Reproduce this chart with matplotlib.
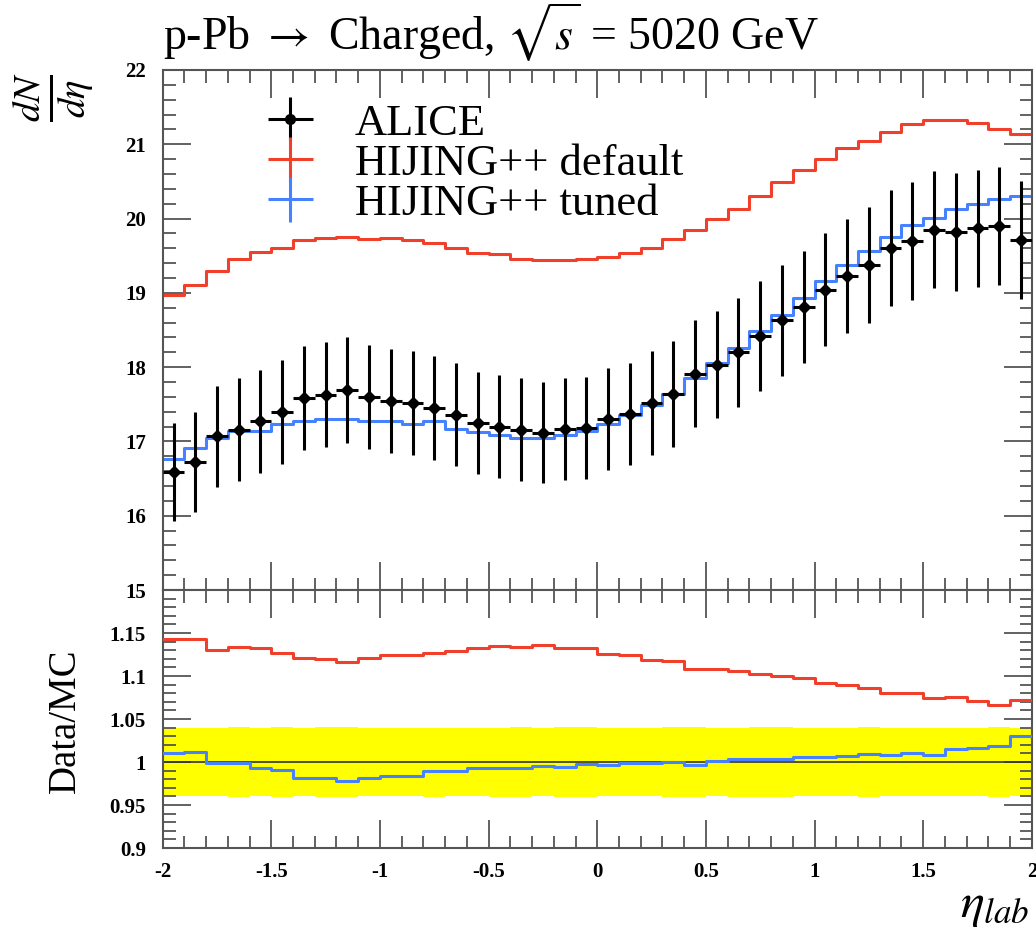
import numpy as np
import matplotlib
matplotlib.use("Agg")
import matplotlib.pyplot as plt
from matplotlib.ticker import MultipleLocator, FixedLocator

plt.rcParams['font.family'] = ['Liberation Serif', 'DejaVu Serif']
plt.rcParams['mathtext.fontset'] = 'stix'

# bin edges in eta_lab, 40 bins of 0.1
edges = np.round(np.arange(-2.0, 2.0001, 0.1), 2)

alice = [16.59, 16.72, 17.07, 17.16, 17.27, 17.40, 17.59, 17.63, 17.69, 17.60,
         17.55, 17.52, 17.45, 17.36, 17.25, 17.20, 17.16, 17.12, 17.17, 17.18,
         17.30, 17.37, 17.52, 17.64, 17.91, 18.03, 18.20, 18.42, 18.63, 18.81,
         19.04, 19.23, 19.38, 19.60, 19.70, 19.85, 19.82, 19.87, 19.90, 19.71]
alice_err = [0.66, 0.67, 0.68, 0.69, 0.69, 0.70, 0.70, 0.71, 0.71, 0.70,
             0.70, 0.70, 0.70, 0.69, 0.69, 0.69, 0.69, 0.68, 0.69, 0.69,
             0.69, 0.69, 0.70, 0.71, 0.72, 0.72, 0.73, 0.74, 0.75, 0.75,
             0.76, 0.77, 0.78, 0.78, 0.79, 0.79, 0.79, 0.79, 0.80, 0.79]
hij_default = [18.97, 19.11, 19.29, 19.45, 19.55, 19.61, 19.71, 19.74, 19.75, 19.72,
               19.74, 19.71, 19.67, 19.61, 19.54, 19.52, 19.45, 19.44, 19.44, 19.46,
               19.48, 19.54, 19.60, 19.72, 19.84, 19.99, 20.13, 20.31, 20.49, 20.65,
               20.80, 20.95, 21.04, 21.17, 21.27, 21.32, 21.32, 21.29, 21.21, 21.14]
hij_tuned = [16.77, 16.91, 17.05, 17.14, 17.14, 17.23, 17.27, 17.30, 17.30, 17.27,
             17.27, 17.23, 17.27, 17.17, 17.13, 17.08, 17.04, 17.04, 17.08, 17.14,
             17.23, 17.36, 17.49, 17.64, 17.85, 18.06, 18.26, 18.49, 18.70, 18.93,
             19.16, 19.37, 19.57, 19.75, 19.91, 20.01, 20.13, 20.20, 20.27, 20.30]

xticks = [-2, -1.5, -1, -0.5, 0, 0.5, 1, 1.5, 2]
xticklabels = ['-2', '-1.5', '-1', '-0.5', '0', '0.5', '1', '1.5', '2']
main_yticks = [15, 16, 17, 18, 19, 20, 21, 22]
ratio_yticks = [0.9, 0.95, 1.0, 1.05, 1.1, 1.15]
ratio_yticklabels = ['0.9', '0.95', '1', '1.05', '1.1', '1.15']

red = '#f0402c'
blue = '#4682ff'
frame = '#555555'

alice = np.array(alice)
alice_err = np.array(alice_err)
hij_default = np.array(hij_default)
hij_tuned = np.array(hij_tuned)
centers = 0.5 * (edges[:-1] + edges[1:])


def step_y(v):
    return np.append(v, v[-1])


fig = plt.figure(figsize=(10.36, 9.33), dpi=100)
ax = fig.add_axes([0.157, 0.3676, 0.839, 0.5574])
rax = fig.add_axes([0.157, 0.0911, 0.839, 0.2765], sharex=ax)

# main panel
ax.step(edges, step_y(hij_default), where='post', color=red, lw=2.2, zorder=2)
ax.step(edges, step_y(hij_tuned), where='post', color=blue, lw=2.2, zorder=2)
ax.errorbar(centers, alice, yerr=alice_err, xerr=0.05, fmt='D', color='black',
            ms=6, elinewidth=2.2, capsize=0, zorder=3)

# legend handles drawn as errorbar crosses, the way the reference shows them
h_alice = ax.errorbar([], [], yerr=[], xerr=[], fmt='o', color='black', ms=7,
                      elinewidth=2.2, capsize=0)
h_def = ax.errorbar([], [], yerr=[], xerr=[], fmt='none', ecolor=red,
                    elinewidth=2.2, capsize=0)
h_tun = ax.errorbar([], [], yerr=[], xerr=[], fmt='none', ecolor=blue,
                    elinewidth=2.2, capsize=0)
leg = ax.legend([h_alice, h_def, h_tun],
                ['ALICE', 'HIJING++ default', 'HIJING++ tuned'],
                loc='upper left', bbox_to_anchor=(0.06, 0.995), frameon=False,
                fontsize=32, handlelength=2.0, handletextpad=0.45,
                labelspacing=0.0, borderpad=0.2)

ax.set_xlim(-2, 2)
ax.set_ylim(15, 22)
ax.yaxis.set_major_locator(FixedLocator(main_yticks))
ax.yaxis.set_minor_locator(MultipleLocator(0.2))
ax.xaxis.set_major_locator(FixedLocator(xticks))
ax.xaxis.set_minor_locator(MultipleLocator(0.1))
ax.tick_params(axis='x', labelbottom=False)

# ratio panel (MC / data)
band_lo = 1 - alice_err / alice
band_hi = 1 + alice_err / alice
rax.fill_between(edges, step_y(band_lo), step_y(band_hi), step='post',
                 color='#ffff00', lw=0, zorder=1)
rax.axhline(1.0, color='#333333', lw=1.2, zorder=2)
rax.step(edges, step_y(hij_default / alice), where='post', color=red, lw=2.2, zorder=3)
rax.step(edges, step_y(hij_tuned / alice), where='post', color=blue, lw=2.2, zorder=3)

rax.set_ylim(0.9, 1.2)
rax.yaxis.set_major_locator(FixedLocator(ratio_yticks))
rax.set_yticklabels(ratio_yticklabels)
rax.yaxis.set_minor_locator(MultipleLocator(0.01))
rax.set_xticks(xticks)
rax.set_xticklabels(xticklabels)

for a in (ax, rax):
    for s in a.spines.values():
        s.set_color(frame)
        s.set_linewidth(1.5)
    a.tick_params(which='both', direction='in', top=True, right=True,
                  color=frame, width=1.3)
    a.tick_params(which='major', length=20)
    a.tick_params(which='minor', length=9)
    a.tick_params(axis='y', pad=12)
    a.tick_params(axis='x', pad=10)
    for lab in a.get_xticklabels() + a.get_yticklabels():
        lab.set_fontsize(15)
        lab.set_fontweight('bold')

# texts
fig.text(0.157, 0.946, r'p-Pb ${\rightarrow}$ Charged, $\sqrt{s}$ = 5020 GeV',
         fontsize=33, va='baseline', ha='left')
fig.text(0.052, 0.896, r'$\frac{dN}{d\eta}$', fontsize=40, rotation=90,
         ha='center', va='center')
fig.text(0.063, 0.228, 'Data/MC', fontsize=28, rotation=90,
         ha='center', va='center')
fig.text(0.994, 0.004, r'$\eta_{lab}$', fontsize=36, ha='right', va='bottom')

fig.savefig('out.png', dpi=100)
